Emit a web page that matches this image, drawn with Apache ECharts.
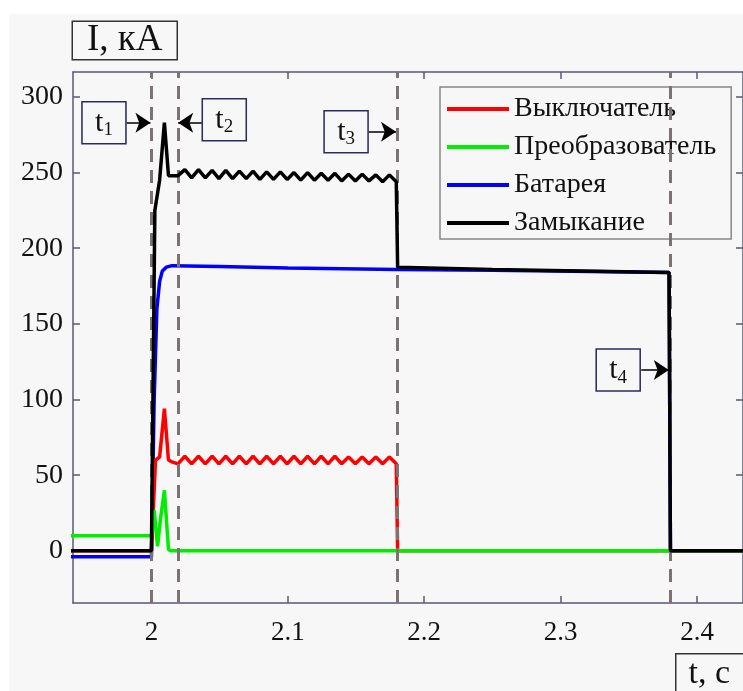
<!DOCTYPE html>
<html>
<head>
<meta charset="utf-8">
<script src="https://cdn.jsdelivr.net/npm/echarts@6/dist/echarts.min.js"></script>
<style>
  html, body { margin: 0; padding: 0; background: #fff; }
  #chart { width: 743px; height: 691px; }
</style>
</head>
<body>
<div id="chart"></div>
<script>
// Data: time (s), current (kA)
var seriesNames = ["Выключатель", "Преобразователь", "Батарея", "Замыкание"];
var xTicks = [2, 2.1, 2.2, 2.3, 2.4];
var yTicks = [0, 50, 100, 150, 200, 250, 300];

var breaker = [
  [1.94, 0], [2.0, 0], [2.0005, 0], [2.003, 60], [2.006, 62], [2.0095, 94],
  [2.0125, 60], [2.0145, 59],
  [2.0195, 57.5], [2.0245, 62.5], [2.0295, 57.5], [2.0345, 62.5], [2.0395, 57.5],
  [2.0445, 62.5], [2.0495, 57.5], [2.0545, 62.5], [2.0595, 57.5], [2.0645, 62.5],
  [2.0695, 57.5], [2.0745, 62.5], [2.0795, 57.5], [2.0845, 62.5], [2.0895, 57.5],
  [2.0945, 62.5], [2.0995, 57.5], [2.1045, 62.5], [2.1095, 57.5], [2.1145, 62.5],
  [2.1195, 57.5], [2.1245, 62.5], [2.1295, 57.5], [2.1345, 62.5], [2.1395, 57.5],
  [2.1445, 62], [2.1495, 57.5], [2.1545, 62], [2.1595, 57.5], [2.1645, 62],
  [2.1695, 57.5], [2.1745, 62], [2.1795, 57.5], [2.18, 58], [2.1805, 0], [2.44, 0]
];
var converter = [
  [1.94, 10], [2.0, 10], [2.0005, 10], [2.002, 27], [2.0045, 3], [2.0065, 20],
  [2.0095, 40], [2.0125, 1], [2.014, 0], [2.44, 0]
];
var battery = [
  [1.94, -4], [2.0, -4], [2.0005, -4], [2.002, 100], [2.004, 160], [2.006, 178],
  [2.008, 185], [2.011, 187.5], [2.015, 188.5], [2.05, 188], [2.1, 187],
  [2.18, 186], [2.25, 185.5], [2.3795, 184], [2.3805, 0], [2.44, 0]
];
var fault = [
  [1.94, 0], [2.0, 0], [2.0005, 0], [2.0025, 225], [2.006, 245], [2.0095, 283],
  [2.0125, 248], [2.0195, 248],
  [2.0245, 252], [2.0295, 246.5], [2.0345, 252], [2.0395, 246.5], [2.0445, 251.5],
  [2.0495, 246], [2.0545, 251.5], [2.0595, 246], [2.0645, 251], [2.0695, 246],
  [2.0745, 251], [2.0795, 245.5], [2.0845, 250.5], [2.0895, 245.5], [2.0945, 250.5],
  [2.0995, 245.5], [2.1045, 250], [2.1095, 245], [2.1145, 250], [2.1195, 245],
  [2.1245, 249.5], [2.1295, 245], [2.1345, 249.5], [2.1395, 244.5], [2.1445, 249],
  [2.1495, 244.5], [2.1545, 249], [2.1595, 244.5], [2.1645, 248.5], [2.1695, 244],
  [2.1745, 248.5], [2.1795, 244], [2.18, 244], [2.1805, 187.5], [2.25, 186],
  [2.3795, 184], [2.3805, 0], [2.44, 0]
];

// switching instants (dashed lines)
var eventTimes = [2.0, 2.018, 2.18, 2.38];
// annotation boxes: label index, box centre, arrow start, arrow end
var boxLabels = ["1", "2", "3", "4"];
var boxCentres = [[1.9652, 283], [2.0534, 285], [2.1427, 277], [2.3422, 119.5]];
var arrowFrom = [[1.9817, 283], [2.037, 283], [2.1592, 277], [2.3591, 119.5]];
var arrowTo = [[1.9993, 283], [2.0196, 283], [2.1793, 277], [2.3793, 119.5]];

var colors = ["#ff0000", "#00ee00", "#0000ff", "#000000"];
var serif = "Liberation Serif";
var axisColor = "#5a5a72";

var chart = echarts.init(document.getElementById("chart"), null, { renderer: "canvas" });

function lineSeries(name, data, color, z) {
  return {
    name: name, type: "line", data: data, showSymbol: false, z: z,
    color: color,
    lineStyle: { color: color, width: 3.5 },
    emphasis: { disabled: true }
  };
}

function frameAxis(extra) {
  var ax = {
    type: "value",
    axisLine: { show: true, onZero: false, lineStyle: { color: axisColor, width: 1.5 } },
    axisTick: { show: true, inside: true, length: 7, lineStyle: { color: axisColor, width: 1.5 } },
    splitLine: { show: false }
  };
  for (var k in extra) ax[k] = extra[k];
  return ax;
}

var option = {
  animation: false,
  backgroundColor: "#ffffff",
  textStyle: { fontFamily: serif },
  graphic: [
    { type: "rect", left: 9, top: 14, z: -10, shape: { width: 740, height: 680 }, style: { fill: "#f7f7f7" } },
    {
      type: "text", left: 675, top: 653, z: 10,
      style: {
        text: "t, с", fontFamily: serif, fontSize: 34, fill: "#111",
        backgroundColor: "#f7f7f7", borderColor: "#333", borderWidth: 1.5,
        padding: [3, 14, 8, 12]
      }
    }
  ],
  grid: { left: 73, top: 72, right: -1, bottom: 88, containLabel: false },
  legend: {
    data: seriesNames,
    orient: "vertical",
    left: 440, top: 87,
    icon: "rect", itemWidth: 62, itemHeight: 4, itemGap: 10,
    borderColor: "#888", borderWidth: 1.5, backgroundColor: "#f7f7f7",
    padding: [8, 15, 2, 7],
    textStyle: { fontFamily: serif, fontSize: 28, lineHeight: 28, color: "#111" }
  },
  xAxis: [
    frameAxis({
      min: 1.9425, max: 2.4337,
      axisTick: { show: true, inside: true, length: 7, customValues: xTicks, lineStyle: { color: axisColor, width: 1.5 } },
      axisLabel: { customValues: xTicks, margin: 16, fontFamily: serif, fontSize: 27, color: "#111",
        formatter: function (v) { return String(+v.toFixed(1)); } }
    }),
    frameAxis({
      position: "top", min: 1.9425, max: 2.4337,
      axisTick: { show: true, inside: true, length: 7, customValues: xTicks, lineStyle: { color: axisColor, width: 1.5 } },
      axisLabel: { show: false }
    })
  ],
  yAxis: [
    frameAxis({
      min: -34.5, max: 316.5,
      name: "I, кА", nameLocation: "end", nameGap: 13,
      nameTextStyle: {
        fontFamily: serif, fontSize: 37, color: "#111", align: "left", verticalAlign: "bottom",
        borderColor: "#333", borderWidth: 1.5, padding: [0, 14, 0, 14], backgroundColor: "#f7f7f7"
      },
      axisTick: { show: true, inside: true, length: 7, customValues: yTicks, lineStyle: { color: axisColor, width: 1.5 } },
      axisLabel: { customValues: yTicks, margin: 10, fontFamily: serif, fontSize: 28, color: "#111" }
    }),
    frameAxis({
      position: "right", min: -34.5, max: 316.5,
      axisTick: { show: true, inside: true, length: 7, customValues: yTicks, lineStyle: { color: axisColor, width: 1.5 } },
      axisLabel: { show: false }
    })
  ],
  series: [
    lineSeries(seriesNames[2], battery, colors[2], 2),
    lineSeries(seriesNames[0], breaker, colors[0], 3),
    lineSeries(seriesNames[1], converter, colors[1], 4),
    lineSeries(seriesNames[3], fault, colors[3], 5),
    {
      name: "events", type: "line", data: [], z: 8, silent: true,
      markLine: {
        silent: true, symbol: "none", animation: false,
        label: { show: false },
        lineStyle: { color: "#7b7373", width: 3, type: [13, 8] },
        data: eventTimes.map(function (t) { return { xAxis: t }; })
      }
    },
    {
      name: "notes", type: "line", data: [], z: 9, silent: true,
      markLine: {
        silent: true, symbol: ["none", "arrow"], symbolSize: 15, animation: false,
        label: { show: false },
        itemStyle: { color: "#000" },
        lineStyle: { color: "#000", width: 1.5, type: "solid" },
        data: arrowFrom.map(function (p, i) { return [{ coord: p }, { coord: arrowTo[i] }]; })
      },
      markPoint: {
        silent: true, animation: false,
        symbol: "rect", symbolSize: [44, 42],
        itemStyle: { color: "#f7f7f7", borderColor: "#2c2c5c", borderWidth: 1.5 },
        label: {
          show: true, position: "inside",
          rich: {
            t: { fontFamily: serif, fontSize: 30, lineHeight: 34, color: "#111" },
            s: { fontFamily: serif, fontSize: 19, lineHeight: 20, verticalAlign: "bottom", color: "#111" }
          }
        },
        data: boxCentres.map(function (c, i) {
          return { coord: c, label: { formatter: "{t|t}{s|" + boxLabels[i] + "}" } };
        })
      }
    }
  ]
};

chart.setOption(option);
</script>
</body>
</html>
